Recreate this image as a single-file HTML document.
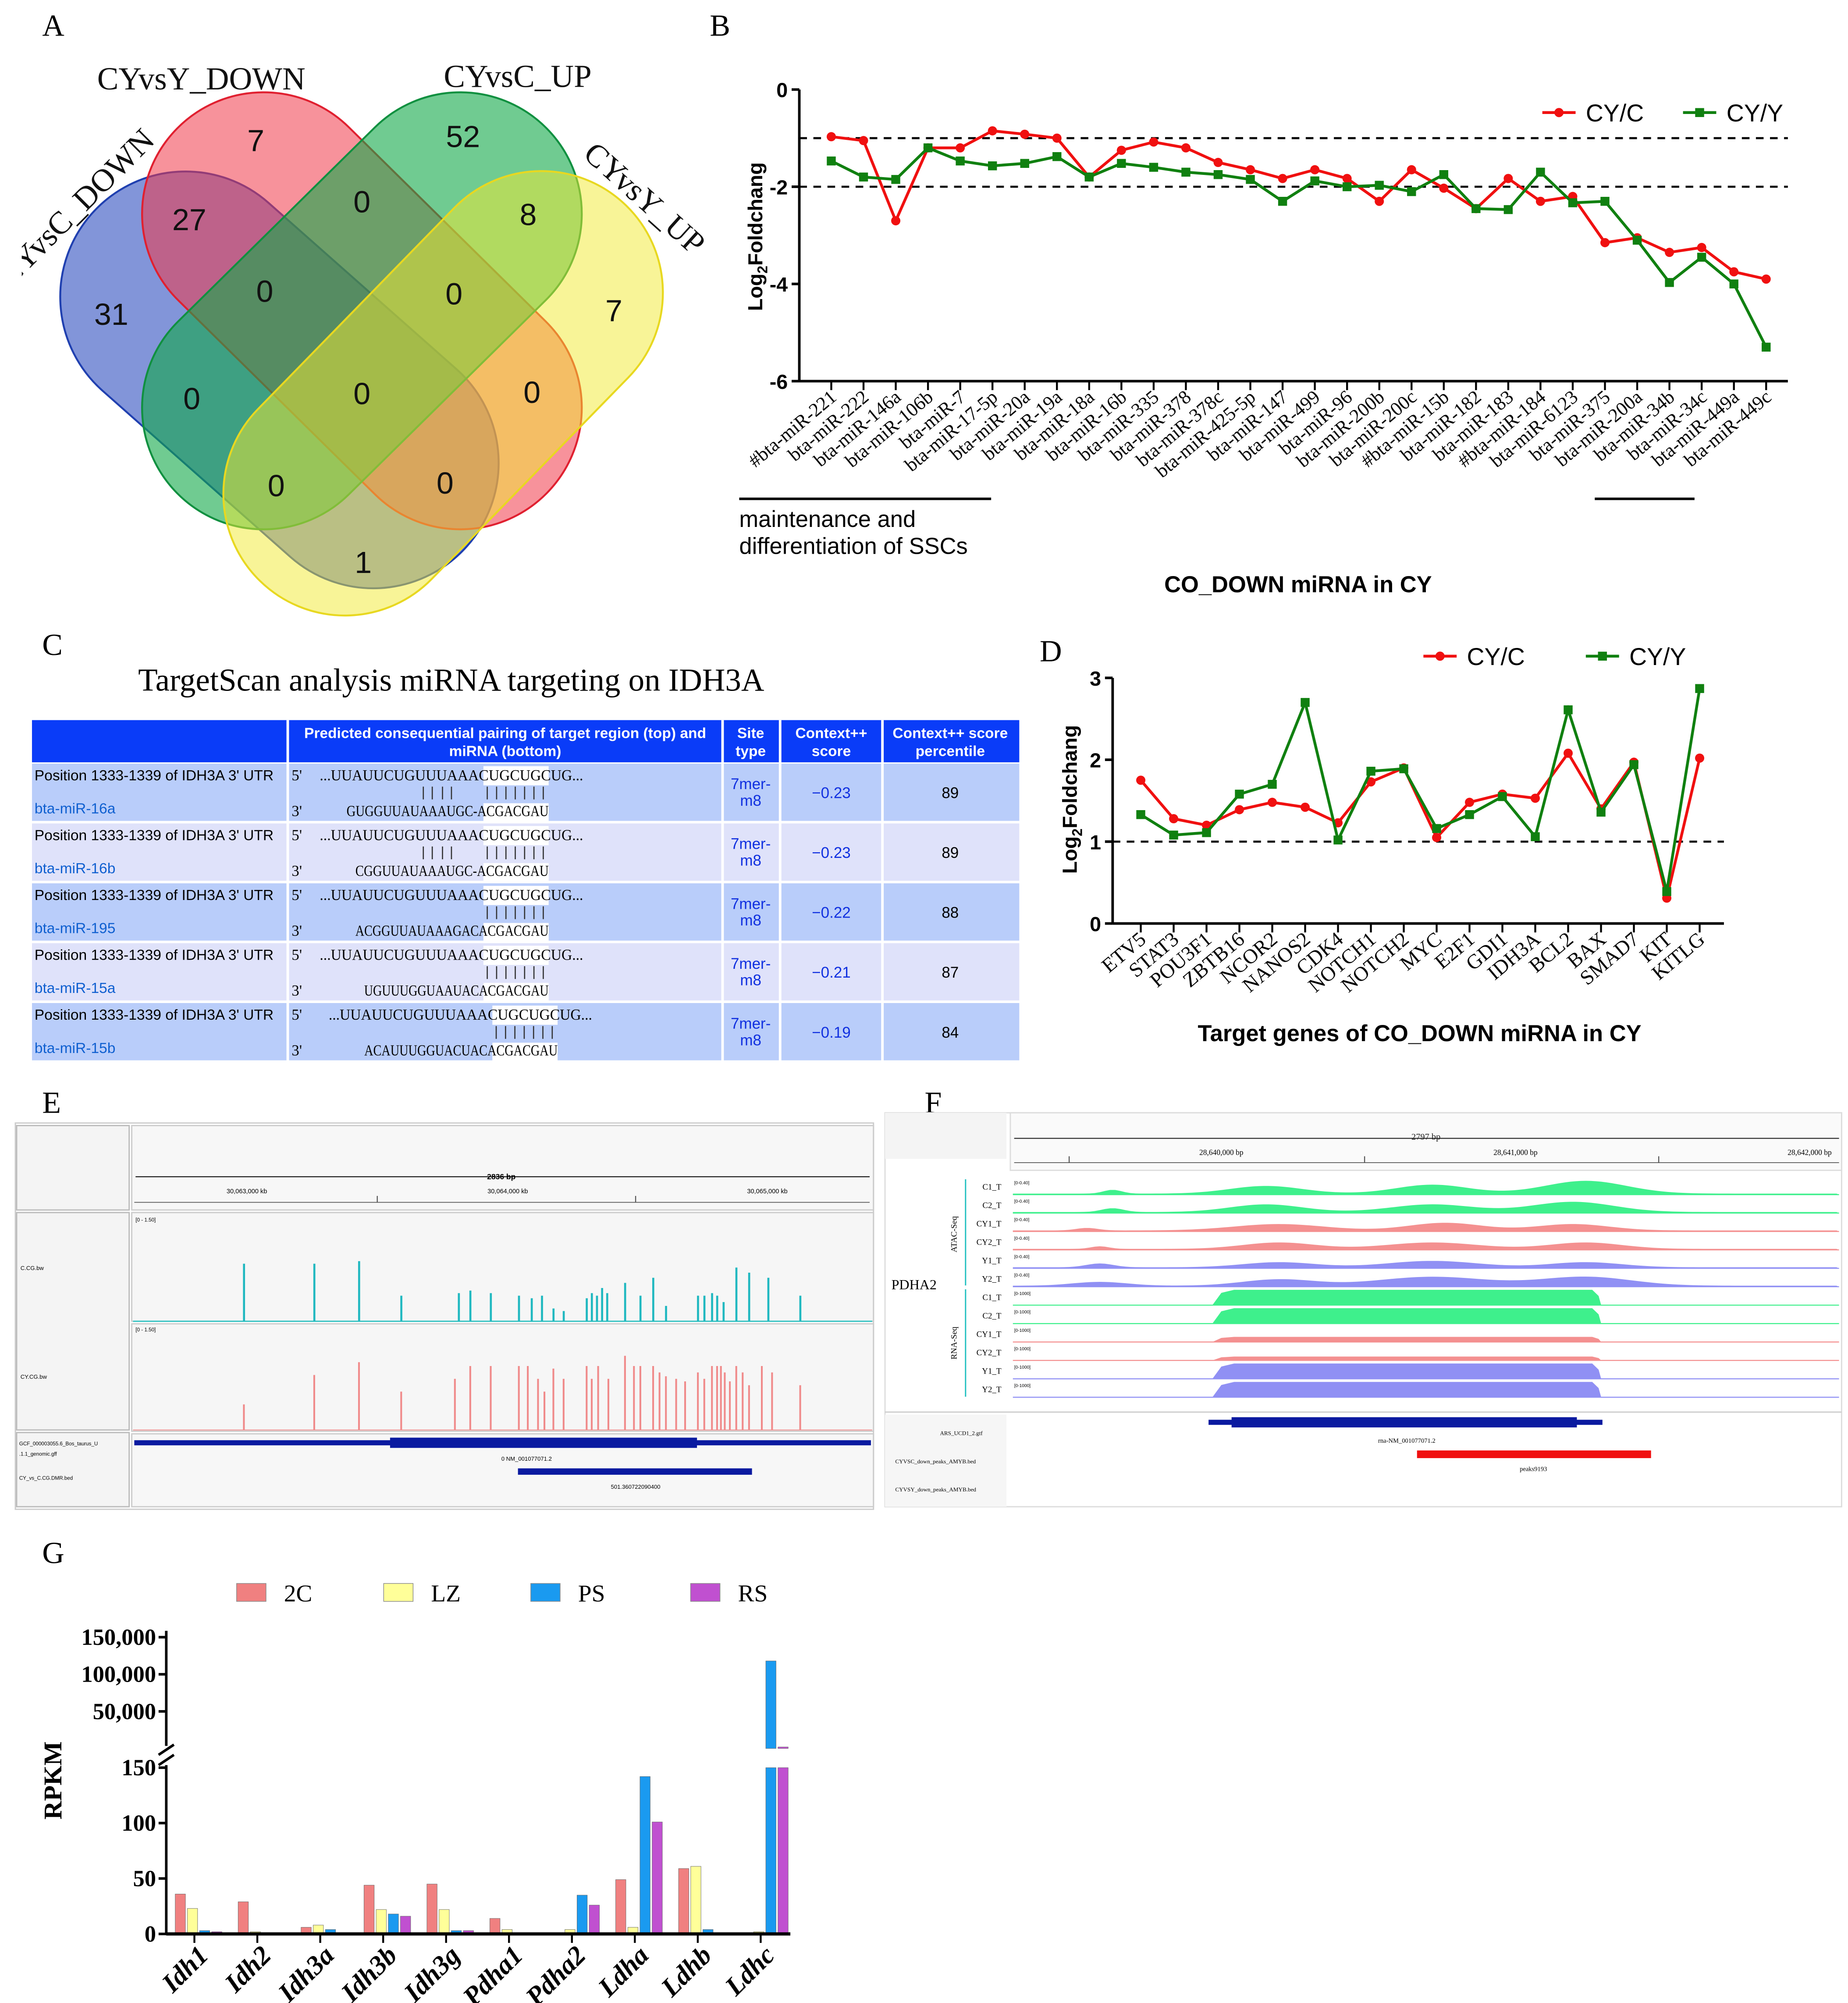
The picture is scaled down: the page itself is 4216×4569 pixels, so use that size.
<!DOCTYPE html>
<html><head><meta charset="utf-8"><style>
html,body{margin:0;padding:0;background:#fff}
svg{display:block}
</style></head><body>
<svg id="fig" xmlns="http://www.w3.org/2000/svg" width="4216" height="4569" viewBox="0 0 1445 1566">
<rect x="0" y="0" width="1445" height="1566" fill="#fff"/>
<g font-family="Liberation Serif, serif" font-size="24" fill="#000">
<text x="33" y="28">A</text>
<text x="555" y="28">B</text>
<text x="33" y="512">C</text>
<text x="813" y="517">D</text>
<text x="33" y="870">E</text>
<text x="723" y="870">F</text>
<text x="33" y="1222">G</text>
</g>
<!-- Venn -->
<g id="venn">
<rect x="-196" y="-98" width="392" height="196" rx="98" transform="translate(218.5,297) rotate(41.5)" fill="#2f4fc0" fill-opacity="0.6" stroke="#2040b0" stroke-width="1.5"/>
<rect x="-203" y="-95" width="406" height="190" rx="95" transform="translate(283,243) rotate(44.6)" fill="#f03848" fill-opacity="0.55" stroke="#e02030" stroke-width="1.5"/>
<rect x="-203" y="-95" width="406" height="190" rx="95" transform="translate(283,243) rotate(-44.6)" fill="#10a848" fill-opacity="0.6" stroke="#109040" stroke-width="1.5"/>
<rect x="-205" y="-95" width="410" height="190" rx="95" transform="translate(346.5,307.5) rotate(-45.7)" fill="#f2ea30" fill-opacity="0.5" stroke="#e8d820" stroke-width="1.5"/>
<g font-family="Liberation Sans, sans-serif" font-size="24" text-anchor="middle" fill="#111">
<text x="200" y="118">7</text><text x="362" y="115">52</text><text x="148" y="180">27</text><text x="283" y="166">0</text><text x="413" y="176">8</text><text x="87" y="254">31</text><text x="207" y="236">0</text><text x="355" y="238">0</text><text x="480" y="251">7</text><text x="150" y="320">0</text><text x="283" y="316">0</text><text x="416" y="315">0</text><text x="216" y="388">0</text><text x="348" y="386">0</text><text x="284" y="448">1</text>
</g>
<g font-family="Liberation Serif, serif" font-size="25" fill="#111">
<text x="76" y="70">CYvsY_DOWN</text>
<text x="347" y="68">CYvsC_UP</text>
<text x="0" y="0" transform="translate(455,122) rotate(42)">CYvsY_UP</text>
<text x="0" y="0" transform="translate(8,225) rotate(-45)">CYvsC_DOWN</text>
</g>
<rect x="0" y="60" width="17" height="200" fill="#fff"/>
</g>
<g id="panelB"></g>
<g id="panelC">
<text x="108" y="540" font-family="Liberation Serif, serif" font-size="25">TargetScan analysis miRNA targeting on IDH3A</text>
</g>
<g id="panelD"></g>
<g id="panelE"></g>
<g id="panelF"></g>
<g id="panelG"></g>
</svg>
<script>
const NS='http://www.w3.org/2000/svg';
function el(parent,tag,attrs,txt){const e=document.createElementNS(NS,tag);for(const k in attrs)e.setAttribute(k,attrs[k]);if(txt!==undefined)e.textContent=txt;parent.appendChild(e);return e;}
function nm(e,n,i){
return e;}

// ===== Panel B data =====
const bCats=['#bta-miR-221','bta-miR-222','bta-miR-146a','bta-miR-106b','bta-miR-7','bta-miR-17-5p','bta-miR-20a','bta-miR-19a','bta-miR-18a','bta-miR-16b','bta-miR-335','bta-miR-378','bta-miR-378c','bta-miR-425-5p','bta-miR-147','bta-miR-499','bta-miR-96','bta-miR-200b','bta-miR-200c','#bta-miR-15b','bta-miR-182','bta-miR-183','#bta-miR-184','bta-miR-6123','bta-miR-375','bta-miR-200a','bta-miR-34b','bta-miR-34c','bta-miR-449a','bta-miR-449c'];
const bCYC=[-0.97,-1.05,-2.7,-1.2,-1.2,-0.85,-0.92,-1.0,-1.8,-1.25,-1.08,-1.2,-1.5,-1.65,-1.83,-1.65,-1.83,-2.3,-1.65,-2.03,-2.45,-1.83,-2.3,-2.2,-3.15,-3.05,-3.35,-3.25,-3.75,-3.9];
const bCYY=[-1.47,-1.8,-1.85,-1.2,-1.47,-1.57,-1.52,-1.38,-1.8,-1.52,-1.6,-1.7,-1.75,-1.85,-2.3,-1.88,-2.0,-1.97,-2.1,-1.75,-2.45,-2.47,-1.7,-2.33,-2.3,-3.1,-3.97,-3.45,-4.0,-5.3];
const bTicks=[0,-2,-4,-6];
// ===== Panel D data =====
const dCats=['ETV5','STAT3','POU3F1','ZBTB16','NCOR2','NANOS2','CDK4','NOTCH1','NOTCH2','MYC','E2F1','GDI1','IDH3A','BCL2','BAX','SMAD7','KIT','KITLG'];
const dCYC=[1.75,1.28,1.2,1.39,1.48,1.42,1.23,1.73,1.9,1.05,1.48,1.58,1.53,2.08,1.4,1.97,0.31,2.02];
const dCYY=[1.33,1.08,1.11,1.58,1.7,2.7,1.02,1.86,1.89,1.16,1.33,1.55,1.06,2.61,1.36,1.94,0.39,2.87];
const dTicks=[0,1,2,3];
// ===== Panel G data =====
const gGenes=['Idh1','Idh2','Idh3a','Idh3b','Idh3g','Pdha1','Pdha2','Ldha','Ldhb','Ldhc'];
const g2C=[36,29,6,44,45,14,0,49,59,0];
const gLZ=[23,2,8,22,22,4,4,6,61,2];
const gPS=[3,0,4,18,3,0,35,142,4,118000];
const gRS=[2,0,0,16,3,0,26,101,1,2000];
const gLowTicks=[0,50,100,150];
const gHighTicks=[50000,100000,150000];

function chart(g,cats,s1,s2,ticks,xs,ys,opt){
  const ax=el(g,'g',{});nm(ax,opt.pfx+'-axes',false);
  const yAxis=el(ax,'line',{x1:opt.x0,y1:ys(ticks[ticks.length-1]),x2:opt.x0,y2:ys(ticks[0]),stroke:'#000','stroke-width':2});nm(yAxis,opt.pfx+'-y-axis',false);
  const xa=el(ax,'line',{x1:opt.x0,y1:opt.xaxisY,x2:opt.x1,y2:opt.xaxisY,stroke:'#000','stroke-width':2});nm(xa,opt.pfx+'-x-axis',false);
  ticks.forEach(t=>{el(ax,'line',{x1:opt.x0-6,y1:ys(t),x2:opt.x0,y2:ys(t),stroke:'#000','stroke-width':2});
    const tl=el(ax,'text',{x:opt.x0-9,y:ys(t)+6,'text-anchor':'end','font-family':'Liberation Sans, sans-serif','font-size':16,'font-weight':'bold'},String(t));nm(tl,opt.pfx+'-y-tick-label',false);});
  opt.dash.forEach(v=>{const d=el(ax,'line',{x1:opt.x0,y1:ys(v),x2:opt.x1,y2:ys(v),stroke:'#000','stroke-width':1.6,'stroke-dasharray':'6,5'});nm(d,opt.pfx+'-threshold-line',false);});
  cats.forEach((c,i)=>{const x=xs(i);el(ax,'line',{x1:x,y1:opt.xaxisY,x2:x,y2:opt.xaxisY+7,stroke:'#000','stroke-width':1.5});
    const t=el(ax,'text',{x:0,y:0,transform:`translate(${x+5},${opt.xaxisY+14}) rotate(-40)`,'text-anchor':'end','font-family':'Liberation Serif, serif','font-size':opt.lfs},c);nm(t,opt.pfx+'-x-tick-label',false);});
  [[s1,'#f01010','cyc'],[s2,'#108010','cyy']].forEach(([s,col,n])=>{
    const pl=el(g,'polyline',{points:s.map((v,i)=>xs(i)+','+ys(v)).join(' '),fill:'none',stroke:col,'stroke-width':2.2});nm(pl,opt.pfx+'-line-'+n,false);
    s.forEach((v,i)=>{let m;if(n==='cyc')m=el(g,'circle',{cx:xs(i),cy:ys(v),r:3.6,fill:col});else m=el(g,'rect',{x:xs(i)-3.5,y:ys(v)-3.5,width:7,height:7,fill:col});nm(m,opt.pfx+'-point-'+n,false);});
  });
  const lg=el(g,'g',{});nm(lg,opt.pfx+'-legend',false);
  [[opt.leg[0],'#f01010','CY/C',1],[opt.leg[1],'#108010','CY/Y',0]].forEach(([lx,col,lab,circ])=>{
    el(lg,'line',{x1:lx,y1:opt.legY,x2:lx+26,y2:opt.legY,stroke:col,'stroke-width':2.2});
    if(circ)el(lg,'circle',{cx:lx+13,cy:opt.legY,r:3.6,fill:col});else el(lg,'rect',{x:lx+9.5,y:opt.legY-3.5,width:7,height:7,fill:col});
    const t=el(lg,'text',{x:lx+34,y:opt.legY+7,'font-family':'Liberation Sans, sans-serif','font-size':19},lab);nm(t,opt.pfx+'-legend-label',false);});
  const yt=el(g,'text',{x:0,y:0,transform:`translate(${opt.ytx},${opt.yty}) rotate(-90)`,'text-anchor':'middle','font-family':'Liberation Sans, sans-serif','font-size':16,'font-weight':'bold'});nm(yt,opt.pfx+'-y-axis-title',false);
  yt.appendChild(document.createTextNode('Log'));el(yt,'tspan',{'font-size':11,dy:4},'2');el(yt,'tspan',{dy:-4},'Foldchang');
}
// Panel B
(function(){const g=document.getElementById('panelB');
  const xs=i=>650+i*(1381-650)/(bCats.length-1), ys=v=>70-v*38;
  chart(g,bCats,bCYC,bCYY,bTicks,xs,ys,{pfx:'b',x0:625,x1:1398,xaxisY:298,dash:[-1,-2],lfs:15,leg:[1206,1316],legY:88,ytx:596,yty:185});
  const l1=el(g,'line',{x1:578,y1:390,x2:775,y2:390,stroke:'#000','stroke-width':2});nm(l1,'b-group-bracket-sscs',false);
  const l2=el(g,'line',{x1:1247,y1:390,x2:1325,y2:390,stroke:'#000','stroke-width':2});nm(l2,'b-group-bracket-2',false);
  const a=el(g,'text',{x:578,y:412,'font-family':'Liberation Sans, sans-serif','font-size':18},'maintenance and');nm(a,'b-annotation',false);
  const b=el(g,'text',{x:578,y:433,'font-family':'Liberation Sans, sans-serif','font-size':18},'differentiation of SSCs');nm(b,'b-annotation',false);
  const t=el(g,'text',{x:1015,y:463,'text-anchor':'middle','font-family':'Liberation Sans, sans-serif','font-size':18,'font-weight':'bold'},'CO_DOWN miRNA in CY');nm(t,'b-x-axis-title',false);
})();
// Panel D
(function(){const g=document.getElementById('panelD');
  const xs=i=>892+i*(1329-892)/(dCats.length-1), ys=v=>722-v*64;
  chart(g,dCats,dCYC,dCYY,dTicks,xs,ys,{pfx:'d',x0:870,x1:1348,xaxisY:722,dash:[1],lfs:16,leg:[1113,1240],legY:513,ytx:842,yty:625});
  const t=el(g,'text',{x:1110,y:814,'text-anchor':'middle','font-family':'Liberation Sans, sans-serif','font-size':18,'font-weight':'bold'},'Target genes of CO_DOWN miRNA in CY');nm(t,'d-x-axis-title',false);
})();
// Panel C table
(function(){const g=document.getElementById('panelC');
  const cols=[25,225,565,610,690,797];
  const hdr=el(g,'rect',{x:25,y:563,width:772,height:33,fill:'#0a3cf8'});nm(hdr,'table-header',false);
  cols.slice(1,5).forEach(x=>el(g,'line',{x1:x,y1:563,x2:x,y2:830,stroke:'#fff','stroke-width':2}));
  const hs=[['Predicted consequential pairing of target region (top) and','miRNA (bottom)',395],['Site','type',587],['Context++','score',650],['Context++ score','percentile',743]];
  hs.forEach(h=>{const t1=el(g,'text',{x:h[2],y:577,'text-anchor':'middle',fill:'#fff','font-family':'Liberation Sans, sans-serif','font-size':11.5,'font-weight':'bold'},h[0]);nm(t1,'table-header-cell',false);
    const t2=el(g,'text',{x:h[2],y:591,'text-anchor':'middle',fill:'#fff','font-family':'Liberation Sans, sans-serif','font-size':11.5,'font-weight':'bold'},h[1]);nm(t2,'table-header-cell',false);});
  const rows=[['bta-miR-16a','GUGGUUAUAAAUGC-ACGACGAU','-0.23','89',1,0],['bta-miR-16b','CGGUUAUAAAUGC-ACGACGAU','-0.23','89',1,0],['bta-miR-195','ACGGUUAUAAAGACACGACGAU','-0.22','88',0,0],['bta-miR-15a','UGUUUGGUAAUACACGACGAU','-0.21','87',0,0],['bta-miR-15b','ACAUUUGGUACUACACGACGAU','-0.19','84',0,7]];
  rows.forEach((r,i)=>{const y=596+i*46.8, dx=r[5];
    const bg=el(g,'rect',{x:25,y:y+1,width:772,height:44.8,fill:i%2?'#dfe2fa':'#b9cdfa'});nm(bg,'table-row',false);
    cols.slice(1,5).forEach(x=>el(g,'line',{x1:x,y1:y,x2:x,y2:y+47,stroke:'#fff','stroke-width':2}));
    el(g,'rect',{x:378+dx,y:y+3,width:51,height:15,fill:'#fff'});el(g,'rect',{x:378+dx,y:y+32,width:51,height:14,fill:'#fff'});
    const p=el(g,'text',{x:27,y:y+14,'font-family':'Liberation Sans, sans-serif','font-size':11.5},'Position 1333-1339 of IDH3A 3\' UTR');nm(p,'table-position-cell',false);
    const m=el(g,'text',{x:27,y:y+40,fill:'#1060d0','font-family':'Liberation Sans, sans-serif','font-size':11.5},r[0]);nm(m,'table-mirna-name',false);
    el(g,'text',{x:228,y:y+14,'font-family':'Liberation Serif, serif','font-size':12},"5'");
    el(g,'text',{x:228,y:y+42,'font-family':'Liberation Serif, serif','font-size':12},"3'");
    const s1=el(g,'text',{x:250+dx,y:y+14,'font-family':'Liberation Serif, serif','font-size':12,textLength:206,lengthAdjust:'spacingAndGlyphs'},"...UUAUUCUGUUUAAACUGCUGCUG...");nm(s1,'table-target-seq',false);
    const s2=el(g,'text',{x:429+dx,y:y+42,'text-anchor':'end','font-family':'Liberation Serif, serif','font-size':12,textLength:r[1].length*6.87,lengthAdjust:'spacingAndGlyphs'},r[1]);nm(s2,'table-mirna-seq',false);
    const px=[];if(r[4])px.push(331,338,346,353);for(let k=0;k<7;k++)px.push(381+k*7.3);
    px.forEach(x=>el(g,'line',{x1:x+dx,y1:y+19,x2:x+dx,y2:y+29,stroke:'#333','stroke-width':0.9}));
    const st1=el(g,'text',{x:587,y:y+21,'text-anchor':'middle',fill:'#1030e0','font-family':'Liberation Sans, sans-serif','font-size':12},'7mer-');nm(st1,'table-site-type',false);
    el(g,'text',{x:587,y:y+34,'text-anchor':'middle',fill:'#1030e0','font-family':'Liberation Sans, sans-serif','font-size':12},'m8');
    const cs=el(g,'text',{x:650,y:y+28,'text-anchor':'middle',fill:'#1030e0','font-family':'Liberation Sans, sans-serif','font-size':12},'\u2212'+r[2].slice(1));nm(cs,'table-context-score',false);
    const pc=el(g,'text',{x:743,y:y+28,'text-anchor':'middle','font-family':'Liberation Sans, sans-serif','font-size':12},r[3]);nm(pc,'table-percentile',false);
  });
})();
// Panel E
const eTeal=[[190,45],[245,45],[280,47],[313,20],[358,22],[367,24],[383,22],[405,20],[415,18],[423,20],[432,10],[440,8],[458,18],[462,22],[466,20],[470,26],[474,22],[488,30],[500,20],[510,34],[520,12],[545,20],[550,20],[556,22],[560,20],[565,15],[575,42],[585,38],[600,34],[625,20]];
const ePink=[[190,20],[245,43],[280,53],[313,30],[355,40],[367,50],[383,50],[405,50],[412,50],[420,40],[425,30],[432,48],[440,40],[458,50],[462,40],[467,50],[475,40],[488,58],[495,50],[500,50],[510,50],[515,45],[520,42],[528,40],[535,38],[545,45],[550,40],[556,50],[560,50],[563,50],[566,45],[570,38],[575,50],[580,45],[585,35],[595,50],[603,45],[625,35]];
(function(){const g=document.getElementById('panelE');
  el(g,'rect',{x:12,y:878,width:671,height:302,fill:'#fff',stroke:'#ccc'});
  [[12,880,88,66],[12,948,88,170],[12,1120,88,58]].forEach(r=>{const b=el(g,'rect',{x:r[0]+1,y:r[1],width:r[2],height:r[3],fill:'#f4f4f4',stroke:'#bbb'});nm(b,'e-track-name-box',false);});
  el(g,'rect',{x:103,y:880,width:580,height:66,fill:'#f7f7f7',stroke:'#ccc'});
  el(g,'rect',{x:103,y:948,width:580,height:85,fill:'#f6f6f6',stroke:'#ccc'});
  el(g,'rect',{x:103,y:1035,width:580,height:84,fill:'#f6f6f6',stroke:'#ccc'});
  el(g,'rect',{x:103,y:1121,width:580,height:57,fill:'#f7f7f7',stroke:'#ccc'});
  el(g,'line',{x1:106,y1:920,x2:680,y2:920,stroke:'#222','stroke-width':0.8});
  const rl=el(g,'text',{x:392,y:922,'text-anchor':'middle','font-size':6,'font-family':'Liberation Sans, sans-serif','font-weight':'bold'},'2836 bp');nm(rl,'e-ruler-label',false);
  [[193,'30,063,000 kb'],[397,'30,064,000 kb'],[600,'30,065,000 kb']].forEach(t=>{el(g,'text',{x:t[0],y:933,'text-anchor':'middle','font-size':5,'font-family':'Liberation Sans, sans-serif'},t[1]);});
  el(g,'line',{x1:105,y1:940,x2:680,y2:940,stroke:'#555','stroke-width':0.6});
  [295,497].forEach(x=>el(g,'line',{x1:x,y1:935,x2:x,y2:940,stroke:'#555','stroke-width':0.8}));
  el(g,'text',{x:106,y:955,'font-size':4,'font-family':'Liberation Sans, sans-serif'},'[0 - 1.50]');
  el(g,'text',{x:106,y:1041,'font-size':4,'font-family':'Liberation Sans, sans-serif'},'[0 - 1.50]');
  el(g,'text',{x:16,y:993,'font-size':4.5,'font-family':'Liberation Sans, sans-serif'},'C.CG.bw');
  el(g,'text',{x:16,y:1078,'font-size':4.5,'font-family':'Liberation Sans, sans-serif'},'CY.CG.bw');
  el(g,'text',{x:15,y:1130,'font-size':4,'font-family':'Liberation Sans, sans-serif'},'GCF_000003055.6_Bos_taurus_U');
  el(g,'text',{x:15,y:1138,'font-size':4,'font-family':'Liberation Sans, sans-serif'},'.1.1_genomic.gff');
  el(g,'text',{x:15,y:1157,'font-size':4,'font-family':'Liberation Sans, sans-serif'},'CY_vs_C.CG.DMR.bed');
  el(g,'line',{x1:104,y1:1033,x2:682,y2:1033,stroke:'#2cc0c0','stroke-width':1});
  el(g,'line',{x1:104,y1:1118,x2:682,y2:1118,stroke:'#f0a0a0','stroke-width':0.8});
  eTeal.forEach(p=>{const b=el(g,'rect',{x:p[0],y:1033-p[1],width:1.6,height:p[1],fill:'#20b8c0'});nm(b,'e-cg-peak-c',false);});
  ePink.forEach(p=>{const b=el(g,'rect',{x:p[0],y:1118-p[1],width:1.4,height:p[1],fill:'#f08a8a'});nm(b,'e-cg-peak-cy',false);});
  const gl=el(g,'rect',{x:105,y:1126,width:576,height:4,fill:'#0a1aa0'});nm(gl,'e-gene-model',false);
  el(g,'rect',{x:305,y:1124,width:240,height:8,fill:'#0a1aa0'});
  el(g,'text',{x:392,y:1142,'font-size':4.5,'font-family':'Liberation Sans, sans-serif'},'0        NM_001077071.2');
  const dm=el(g,'rect',{x:405,y:1148,width:183,height:5,fill:'#0a1aa0'});nm(dm,'e-dmr-region',false);
  el(g,'text',{x:497,y:1164,'text-anchor':'middle','font-size':4.5,'font-family':'Liberation Sans, sans-serif'},'501.360722090400');
})();
// Panel F
const fTracks=['C1_T','C2_T','CY1_T','CY2_T','Y1_T','Y2_T','C1_T','C2_T','CY1_T','CY2_T','Y1_T','Y2_T'];
const fAtacBumps=[[[870,10,3],[990,40,6],[1120,40,7],[1240,45,10]],[[870,12,3],[990,40,6],[1120,45,6],[1230,45,8]],[[850,12,2],[1000,50,5],[1130,40,6],[1230,40,5]],[[860,10,2],[1000,40,5],[1120,50,5],[1240,40,5]],[[860,15,3],[1000,40,4],[1120,50,5],[1240,40,4]],[[860,30,3],[1000,40,5],[1120,60,7],[1240,50,7]]];
const fRnaH=[12,12,4,3,12,12];
(function(){const g=document.getElementById('panelF');
  el(g,'rect',{x:692,y:870,width:748,height:308,fill:'#fff',stroke:'#ddd'});
  el(g,'rect',{x:692,y:870,width:95,height:36,fill:'#f4f4f4'});
  el(g,'rect',{x:790,y:870,width:650,height:45,fill:'#fafafa',stroke:'#ddd'});
  el(g,'line',{x1:793,y1:890,x2:1438,y2:890,stroke:'#333','stroke-width':0.8});
  const rl=el(g,'text',{x:1115,y:891,'text-anchor':'middle','font-size':7,'font-family':'Liberation Serif, serif',fill:'#222'},'2797 bp');nm(rl,'f-ruler-label',false);
  el(g,'line',{x1:793,y1:909,x2:1438,y2:909,stroke:'#555','stroke-width':0.6});
  [836,1067,1297].forEach(x=>el(g,'line',{x1:x,y1:904,x2:x,y2:909,stroke:'#555','stroke-width':0.8}));
  [[955,'28,640,000 bp'],[1185,'28,641,000 bp'],[1415,'28,642,000 bp']].forEach(t=>el(g,'text',{x:t[0],y:903,'text-anchor':'middle','font-size':6,'font-family':'Liberation Serif, serif'},t[1]));
  const pl=el(g,'text',{x:697,y:1008,'font-size':11,'font-family':'Liberation Serif, serif'},'PDHA2');nm(pl,'f-gene-label',false);
  el(g,'text',{x:0,y:0,transform:'translate(748,965) rotate(-90)','text-anchor':'middle','font-size':6.5,'font-family':'Liberation Serif, serif'},'ATAC-Seq');
  el(g,'text',{x:0,y:0,transform:'translate(748,1050) rotate(-90)','text-anchor':'middle','font-size':6.5,'font-family':'Liberation Serif, serif'},'RNA-Seq');
  el(g,'line',{x1:755,y1:922,x2:755,y2:1005,stroke:'#20c0c0','stroke-width':1});
  el(g,'line',{x1:755,y1:1008,x2:755,y2:1092,stroke:'#20c0c0','stroke-width':1});
  const cols=['#3ef08c','#3ef08c','#f49090','#f49090','#9090f4','#9090f4'];
  fTracks.forEach((n,i)=>{const y0=920+i*14.4, yb=y0+14;
    const lab=el(g,'text',{x:783,y:y0+10,'text-anchor':'end','font-size':6.5,'font-family':'Liberation Serif, serif'},n);nm(lab,'f-track-label',false);
    el(g,'text',{x:793,y:y0+6,'font-size':3.5,'font-family':'Liberation Sans, sans-serif'},i<6?'[0-0.40]':'[0-1000]');
    el(g,'line',{x1:792,y1:yb,x2:1438,y2:yb,stroke:cols[i%6],'stroke-width':0.8});
    let d;
    if(i<6){const bumps=fAtacBumps[i];let pts=[];for(let x=792;x<=1438;x+=4){let h=0.8;bumps.forEach(b=>{h+=b[2]*Math.exp(-Math.pow((x-b[0])/b[1],2));});pts.push(x+','+(yb-Math.min(h,12.5)));}
      d='M792,'+yb+' L'+pts.join(' L')+' L1438,'+yb+' Z';}
    else{const h=fRnaH[i-6];d=`M948,${yb} L955,${yb-h*0.8} L965,${yb-h} L1245,${yb-h} L1250,${yb-h*0.6} L1252,${yb} Z`;}
    const a=el(g,'path',{d:d,fill:cols[i%6]});nm(a,i<6?'f-atac-signal':'f-rna-signal',false);
  });
  el(g,'rect',{x:692,y:1106,width:95,height:72,fill:'#f6f6f6'});
  el(g,'line',{x1:692,y1:1104,x2:1440,y2:1104,stroke:'#ccc'});
  el(g,'text',{x:735,y:1122,'font-size':4.5,'font-family':'Liberation Serif, serif'},'ARS_UCD1_2.gtf');
  el(g,'text',{x:700,y:1144,'font-size':4.5,'font-family':'Liberation Serif, serif'},'CYVSC_down_peaks_AMYB.bed');
  el(g,'text',{x:700,y:1166,'font-size':4.5,'font-family':'Liberation Serif, serif'},'CYVSY_down_peaks_AMYB.bed');
  const gm=el(g,'rect',{x:945,y:1110,width:308,height:4,fill:'#0a1aa0'});nm(gm,'f-gene-model',false);
  el(g,'rect',{x:963,y:1108,width:270,height:8,fill:'#0a1aa0'});
  el(g,'text',{x:1100,y:1128,'text-anchor':'middle','font-size':5,'font-family':'Liberation Serif, serif'},'rna-NM_001077071.2');
  const pk=el(g,'rect',{x:1108,y:1134,width:183,height:6,fill:'#f01010'});nm(pk,'f-peak-region',false);
  el(g,'text',{x:1199,y:1150,'text-anchor':'middle','font-size':5,'font-family':'Liberation Serif, serif'},'peaks9193');
})();
// Panel G
(function(){const g=document.getElementById('panelG');
  const x0=130,x1=618, lowY=v=>1512-v*130/150, highY=v=>1367-v*58/100000;
  const series=[[g2C,'#f08080','2C'],[gLZ,'#ffff99','LZ'],[gPS,'#1a9af0','PS'],[gRS,'#c050d0','RS']];
  const gx=i=>156+i*49.2;
  const lg=el(g,'g',{});nm(lg,'g-legend',false);
  [185,300,415,540].forEach((lx,k)=>{el(lg,'rect',{x:lx,y:1238,width:23,height:14,fill:series[k][1],stroke:'#888','stroke-width':0.5});
    const t=el(lg,'text',{x:lx+37,y:1252,'font-family':'Liberation Serif, serif','font-size':19},series[k][2]);nm(t,'g-legend-label',false);});
  series.forEach((s,k)=>{s[0].forEach((v,i)=>{const x=gx(i)-19+k*9.5;
    const lv=Math.min(v,150);const b=el(g,'rect',{x:x,y:lowY(lv),width:8,height:1512-lowY(lv),fill:s[1],stroke:'#666','stroke-width':0.3});nm(b,'g-bar-'+s[2].toLowerCase(),false);
    if(v>150){const hb=el(g,'rect',{x:x,y:highY(v),width:8,height:1367-highY(v),fill:s[1],stroke:'#666','stroke-width':0.3});nm(hb,'g-bar-'+s[2].toLowerCase()+'-upper',false);}
  });});
  el(g,'line',{x1:x0,y1:1275,x2:x0,y2:1365,stroke:'#000','stroke-width':2});
  el(g,'line',{x1:x0,y1:1380,x2:x0,y2:1513,stroke:'#000','stroke-width':2});
  el(g,'line',{x1:x0-6,y1:1372,x2:x0+6,y2:1364,stroke:'#000','stroke-width':2});
  el(g,'line',{x1:x0-6,y1:1380,x2:x0+6,y2:1372,stroke:'#000','stroke-width':2});
  const xa=el(g,'line',{x1:x0,y1:1512,x2:x1,y2:1512,stroke:'#000','stroke-width':2.5});nm(xa,'g-x-axis',false);
  gLowTicks.forEach(t=>{el(g,'line',{x1:x0-6,y1:lowY(t),x2:x0,y2:lowY(t),stroke:'#000','stroke-width':2});
    const tl=el(g,'text',{x:x0-8,y:lowY(t)+6,'text-anchor':'end','font-family':'Liberation Serif, serif','font-size':18,'font-weight':'bold'},String(t));nm(tl,'g-y-tick-label',false);});
  gHighTicks.forEach(t=>{el(g,'line',{x1:x0-6,y1:highY(t),x2:x0,y2:highY(t),stroke:'#000','stroke-width':2});
    const tl=el(g,'text',{x:x0-8,y:highY(t)+6,'text-anchor':'end','font-family':'Liberation Serif, serif','font-size':18,'font-weight':'bold'},t.toLocaleString('en-US'));nm(tl,'g-y-tick-label',false);});
  gGenes.forEach((n,i)=>{const x=gx(i);el(g,'line',{x1:x-4,y1:1512,x2:x-4,y2:1519,stroke:'#000','stroke-width':1.5});
    const t=el(g,'text',{x:0,y:0,transform:`translate(${x+8},${1530}) rotate(-45)`,'text-anchor':'end','font-family':'Liberation Serif, serif','font-size':21,'font-weight':'bold','font-style':'italic'},n);nm(t,'g-x-tick-label',false);});
  const yt=el(g,'text',{x:0,y:0,transform:'translate(48,1392) rotate(-90)','text-anchor':'middle','font-family':'Liberation Serif, serif','font-size':20,'font-weight':'bold'},'RPKM');nm(yt,'g-y-axis-title',false);
})();
</script>
</body></html>
